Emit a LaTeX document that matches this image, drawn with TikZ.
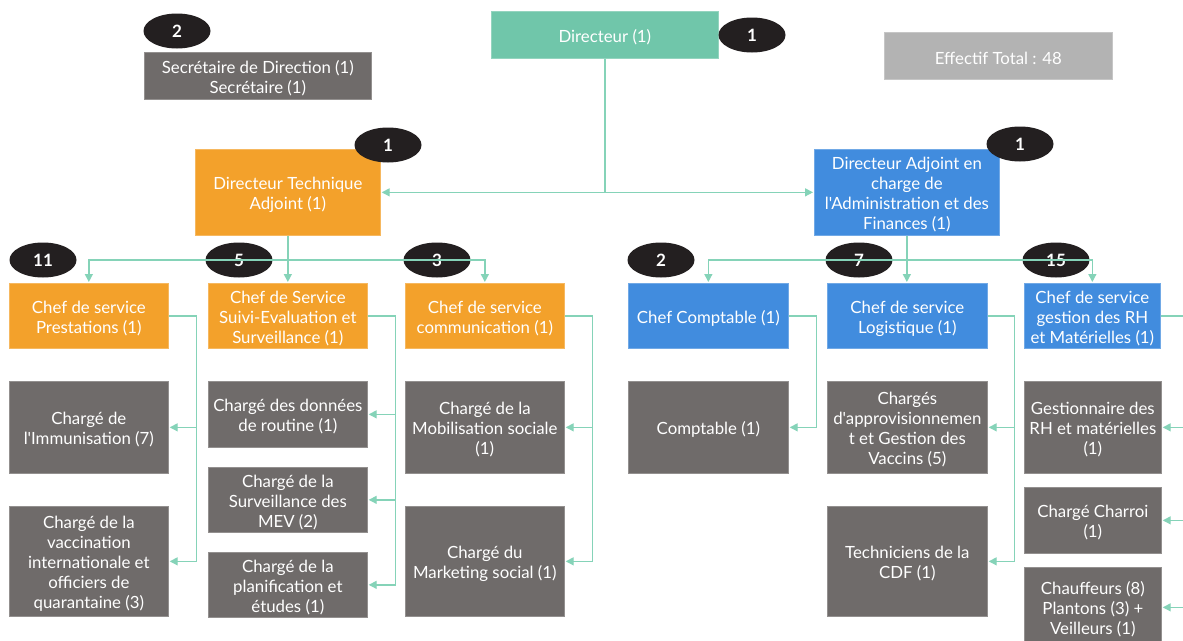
\documentclass[tikz,border=0pt]{standalone}
\usepackage{fontspec}
\newfontfamily\lato{Lato}
\usetikzlibrary{arrows.meta,shapes.geometric,calc}
\definecolor{cteal}{HTML}{70C6AA}
\definecolor{corange}{HTML}{F3A12B}
\definecolor{cblue}{HTML}{418CDE}
\definecolor{cdgray}{HTML}{6F6B6A}
\definecolor{clgray}{HTML}{B3B3B3}
\definecolor{cline}{HTML}{85D3B8}
\definecolor{cbadge}{HTML}{231F20}
\newcommand\boxstrut{\rule{0pt}{17.5pt}}
\begin{document}
\begin{tikzpicture}[x=1pt,y=-1pt,
  box/.style={rectangle, anchor=north west, inner sep=0pt, align=center, text=white, line width=0.7pt, font=\lato\fontsize{16.8}{20}\selectfont},
  tealbox/.style={box, fill=cteal, draw=cteal!75!white},
  orangebox/.style={box, fill=corange, draw=corange!75!white},
  bluebox/.style={box, fill=cblue, draw=cblue!75!white},
  graybox/.style={box, fill=cdgray, draw=cdgray!75!white},
  lightbox/.style={box, fill=clgray, draw=clgray!75!white},
  badge/.style={ellipse, fill=cbadge, minimum width=67pt, minimum height=35pt, inner sep=0pt, text=white, font=\lato\bfseries\fontsize{17}{18}\selectfont},
  conn/.style={draw=cline, line width=1.3pt},
  arr/.style={conn, -{Triangle[length=8pt,width=8pt]}, shorten >=1pt}
]
\useasboundingbox (0,0) rectangle (1183,640);
\clip (0,0) rectangle (1183,640);
\fill[white] (0,0) rectangle (1183,640);

% top level
\node[tealbox, minimum width=227pt, minimum height=47pt] (dir) at (491,11) {\boxstrut Directeur (1)};
\node[graybox, minimum width=227pt, minimum height=47pt] (sec) at (144,52) {\boxstrut Secrétaire de Direction (1)\\Secrétaire (1)};
\node[lightbox, minimum width=228pt, minimum height=47pt] (eff) at (884,32) {\boxstrut Effectif Total : 48};
\node[orangebox, minimum width=185pt, minimum height=86pt] (dta) at (195,149) {\boxstrut Directeur Technique\\Adjoint (1)};
\node[bluebox, minimum width=185pt, minimum height=86pt] (daaf) at (814,149) {\boxstrut Directeur Adjoint en\\charge de\\l'Administration et des\\Finances (1)};

% level 2
\node[orangebox, minimum width=159pt, minimum height=65pt] (prest) at (9,283) {\boxstrut Chef de service\\Prestations (1)};
\node[orangebox, minimum width=159pt, minimum height=65pt] (sse) at (208,283) {\boxstrut Chef de Service\\Suivi-Evaluation et\\Surveillance (1)};
\node[orangebox, minimum width=159pt, minimum height=65pt] (com) at (405,283) {\boxstrut Chef de service\\communication (1)};
\node[bluebox, minimum width=160pt, minimum height=65pt] (cc) at (628,283) {\boxstrut Chef Comptable (1)};
\node[bluebox, minimum width=160pt, minimum height=65pt] (log) at (827,283) {\boxstrut Chef de service\\Logistique (1)};
\node[bluebox, minimum width=136pt, minimum height=65pt] (rh) at (1024,283) {\boxstrut Chef de service\\gestion des RH\\et Matérielles (1)};

% level 3
\node[graybox, minimum width=159pt, minimum height=92pt] (immu) at (9,381) {\boxstrut Chargé de\\l'Immunisation (7)};
\node[graybox, minimum width=159pt, minimum height=110pt] (vacc) at (9,506) {\boxstrut Chargé de la\\vaccination\\internationale et\\officiers de\\quarantaine (3)};
\node[graybox, minimum width=159pt, minimum height=66pt] (don) at (208,381) {\boxstrut Chargé des données\\de routine (1)};
\node[graybox, minimum width=159pt, minimum height=65pt] (mev) at (208,467) {\boxstrut Chargé de la\\Surveillance des\\MEV (2)};
\node[graybox, minimum width=159pt, minimum height=65pt] (plan) at (208,552) {\boxstrut Chargé de la\\planification et\\études (1)};
\node[graybox, minimum width=159pt, minimum height=92pt] (mob) at (405,381) {\boxstrut Chargé de la\\Mobilisation sociale\\(1)};
\node[graybox, minimum width=159pt, minimum height=110pt] (mkt) at (405,506) {\boxstrut Chargé du\\Marketing social (1)};
\node[graybox, minimum width=160pt, minimum height=92pt] (compt) at (628,381) {\boxstrut Comptable (1)};
\node[graybox, minimum width=160pt, minimum height=92pt] (appro) at (827,381) {\boxstrut Chargés\\d'approvisionnemen\\t et Gestion des\\Vaccins (5)};
\node[graybox, minimum width=160pt, minimum height=110pt] (cdf) at (827,506) {\boxstrut Techniciens de la\\CDF (1)};
\node[graybox, minimum width=137pt, minimum height=92pt] (gest) at (1024,381) {\boxstrut Gestionnaire des\\RH et matérielles\\(1)};
\node[graybox, minimum width=137pt, minimum height=66pt] (charroi) at (1024,487) {\boxstrut Chargé Charroi\\(1)};
\node[graybox, minimum width=137pt, minimum height=80pt] (chauf) at (1024,567) {\boxstrut Chauffeurs (8)\\Plantons (3) +\\Veilleurs (1)};

% level-2 badges (under the connectors)
\node[badge] (b11) at (43,260) {11};
\node[badge] (b5) at (239,260) {5};
\node[badge] (b3) at (437,260) {3};
\node[badge] (b2) at (661,260) {2};
\node[badge] (b7) at (859,260) {7};
\node[badge] (b15) at (1056,260) {15};

% connectors: director
\coordinate (j0) at (dir.south |- dta.east);
\draw[conn] (dir.south) -- (j0);
\draw[arr] (j0) -- (dta.east);
\draw[arr] (j0) -- (daaf.west);

% connectors: level 2
\coordinate (lvl) at (0,260);
\coordinate (jo) at (dta.south |- lvl);
\draw[arr] (dta.south) -- (sse.north);
\draw[arr] (jo) -| (prest.north);
\draw[arr] (jo) -| (com.north);
\coordinate (jb) at (daaf.south |- lvl);
\draw[arr] (daaf.south) -- (daaf.south |- log.north);
\draw[arr] (jb) -| (cc.north);
\draw[arr] (jb) -| (rh.north);

% connectors: level 3
\coordinate (v1) at ($(prest.east)+(28,0)$);
\draw[conn] (prest.east) -- (v1);
\draw[arr] (v1) |- (immu.east);
\draw[arr] (v1) |- (vacc.east);
\coordinate (v2) at ($(sse.east)+(28,0)$);
\draw[conn] (sse.east) -- (v2);
\draw[arr] (v2) |- (don.east);
\draw[arr] (v2) |- (mev.east);
\draw[arr] (v2) |- (plan.east);
\coordinate (v3) at ($(com.east)+(28,0)$);
\draw[conn] (com.east) -- (v3);
\draw[arr] (v3) |- (mob.east);
\draw[arr] (v3) |- (mkt.east);
\coordinate (v4) at ($(cc.east)+(28,0)$);
\draw[conn] (cc.east) -- (v4);
\draw[arr] (v4) |- (compt.east);
\coordinate (v5) at ($(log.east)+(27,0)$);
\draw[conn] (log.east) -- (v5);
\draw[arr] (v5) |- (appro.east);
\draw[arr] (v5) |- (cdf.east);
\coordinate (v6) at ($(rh.east)+(30,0)$);
\draw[conn] (rh.east) -- (v6);
\draw[arr] (v6) |- (gest.east);
\draw[arr] (v6) |- (charroi.east);
\draw[arr] (v6) |- (chauf.east);

% top badges
\node[badge] (bd) at (752,35) {1};
\node[badge] (bs) at (177,31) {2};
\node[badge] (bdta) at (388,145) {1};
\node[badge] (bdaaf) at (1020,144) {1};
\end{tikzpicture}
\end{document}
